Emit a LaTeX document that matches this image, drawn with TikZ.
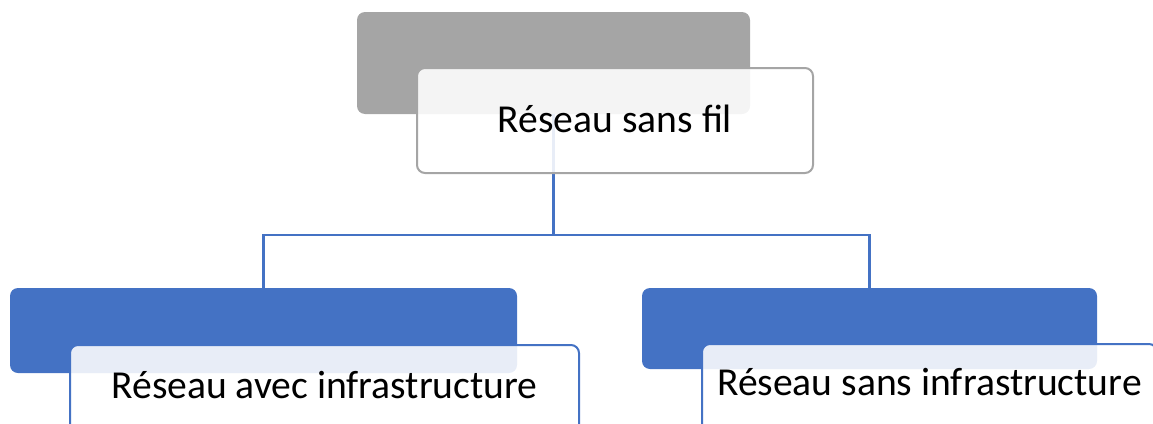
\documentclass[tikz,border=0pt]{standalone}
\usepackage{fontspec}
\setmainfont{Carlito}
\definecolor{accentblue}{HTML}{4472C4}
\definecolor{accentgray}{HTML}{A5A5A5}
\tikzset{
  backbox/.style={rectangle, rounded corners=8pt, draw=none, inner sep=0pt},
  frontbox/.style={rectangle, rounded corners=8pt, line width=2pt, fill=white,
    fill opacity=0.88, inner sep=0pt},
  caption/.style={anchor=base, inner sep=0pt, text=black,
    font=\fontsize{39.6}{47}\selectfont},
  conn/.style={draw=accentblue, line width=2.2pt},
}
\begin{document}
\begin{tikzpicture}[x=1pt,y=-1pt]
  \useasboundingbox (0,0) rectangle (1153,423);
  \clip (0,0) rectangle (1153,423);

  % coloured back plates
  \node[backbox, fill=accentgray, minimum width=393pt, minimum height=102pt]
    (rootbg) at (553.5,63) {};
  \node[backbox, fill=accentblue, minimum width=507pt, minimum height=85pt]
    (leftbg) at (263.5,330.5) {};
  \node[backbox, fill=accentblue, minimum width=455pt, minimum height=81pt]
    (rightbg) at (869.5,328.5) {};

  % tree connectors
  \coordinate (junction) at (553.5,235);
  \draw[conn] (rootbg.south) -- (junction);
  \draw[conn] (junction) -| (leftbg.north);
  \draw[conn] (junction) -| (rightbg.north);

  % translucent text panels
  \node[frontbox, draw=accentgray, minimum width=396pt, minimum height=105pt]
    (root) at (615,120.5) {};
  \node[frontbox, draw=accentblue, minimum width=509pt, minimum height=90pt]
    (left) at (324.5,390) {};
  \node[frontbox, draw=accentblue, minimum width=455pt, minimum height=90pt]
    (right) at (929.5,389) {};

  % labels
  \node[caption] (roottext) at (615,132) {Réseau sans fil};
  \node[caption] (lefttext) at (324.5,398) {Réseau avec infrastructure};
  \node[caption] (righttext) at (929.5,395) {Réseau sans infrastructure};
\end{tikzpicture}
\end{document}
